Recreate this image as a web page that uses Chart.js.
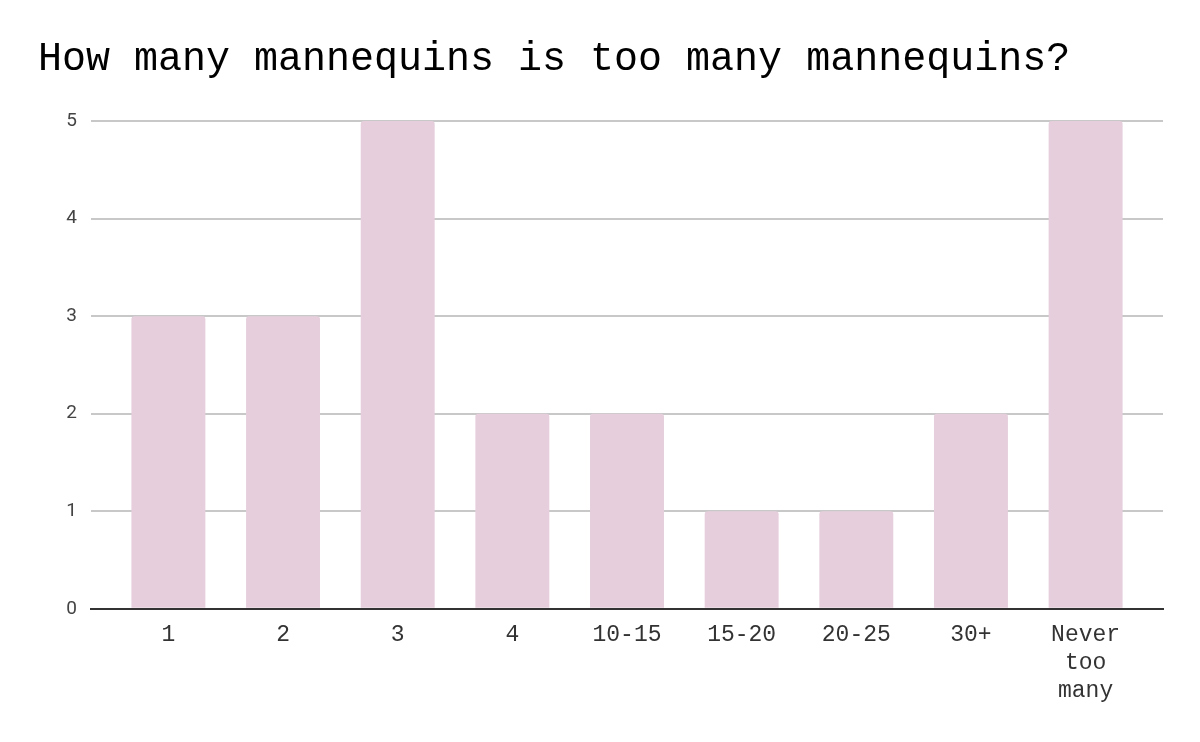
<!DOCTYPE html>
<html>
<head>
<meta charset="utf-8">
<script src="https://cdn.jsdelivr.net/npm/chart.js@4"></script>
<style>
  body { margin: 0; background: #fff; }
  #wrap { width: 1200px; height: 742px; }
</style>
</head>
<body>
<div id="wrap"><canvas id="mannequins"></canvas></div>
<script>
const categories = ['1', '2', '3', '4', '10-15', '15-20', '20-25', '30+', ['Never', 'too', 'many']];
const counts = [3, 3, 5, 2, 2, 1, 1, 2, 5];
const yTicks = [0, 1, 2, 3, 4, 5];

const ctx = document.getElementById('mannequins').getContext('2d');

// extra room at both ends of the category axis (in category units)
const xEdge = 0.175;

new Chart(ctx, {
    type: 'bar',
    data: {
        labels: categories,
        datasets: [{
            label: 'Responses',
            data: counts,
            backgroundColor: '#e6cedc',
            borderRadius: { topLeft: 3, topRight: 3 },
            borderSkipped: 'bottom',
            barPercentage: 0.645,
            categoryPercentage: 1
        }]
    },
    options: {
        responsive: true,
        maintainAspectRatio: false,
        animation: false,
        layout: { padding: { left: 38, right: 37, top: 0, bottom: 25 } },
        plugins: {
            legend: { display: false },
            tooltip: { enabled: false },
            title: {
                display: true,
                text: 'How many mannequins is too many mannequins?',
                align: 'start',
                color: '#000',
                font: { family: 'Liberation Mono', size: 40, weight: 'normal' },
                padding: { top: 35, bottom: 38 }
            }
        },
        scales: {
            x: {
                afterBuildTicks: (scale) => {
                    scale._startValue -= xEdge;
                    scale._valueRange += 2 * xEdge;
                },
                grid: { display: false, drawTicks: false },
                border: { display: true, color: '#333', width: 2 },
                ticks: {
                    color: '#333',
                    padding: 12,
                    maxRotation: 0,
                    font: { family: 'Liberation Mono', size: 23, lineHeight: 1.22 }
                }
            },
            y: {
                min: 0,
                max: 5,
                afterFit: (scale) => { scale.width = 53; },
                afterBuildTicks: (scale) => { scale.ticks = yTicks.map(v => ({ value: v })); },
                grid: { color: '#c8c8c8', lineWidth: 2, drawTicks: false },
                border: { display: false },
                ticks: {
                    color: '#444',
                    padding: 14,
                    font: { family: 'Roboto', size: 19 }
                }
            }
        }
    }
});
</script>
</body>
</html>
